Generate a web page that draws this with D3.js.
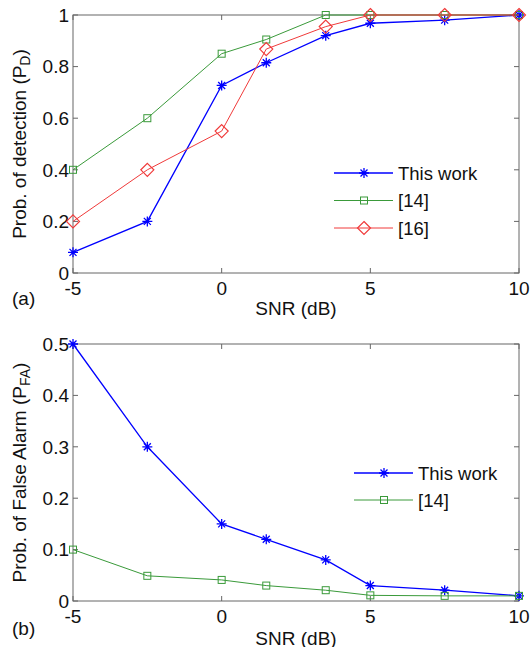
<!DOCTYPE html>
<html>
<head>
<meta charset="utf-8">
<script src="https://cdn.jsdelivr.net/npm/d3@7"></script>
<style>
  body { margin: 0; background: #fff; }
  text { font-family: "Liberation Sans", Arial, sans-serif; fill: #111; }
</style>
</head>
<body>
<div class="viz"></div>
<script>
const snr = [-5, -2.5, 0, 1.5, 3.5, 5, 7.5, 10];
const xTicks = [-5, 0, 5, 10];

// panel (a) detection probability
const pdThisWork = [0.08, 0.2, 0.727, 0.815, 0.92, 0.968, 0.98, 1.0];
const pdRef14 = [0.4, 0.6, 0.85, 0.905, 1.0, 1.0, 1.0, 1.0];
const pdRef16 = [0.2, 0.4, 0.55, 0.868, 0.955, 1.0, 1.0, 1.0];
const pdTicks = [0, 0.2, 0.4, 0.6, 0.8, 1];

// panel (b) false alarm probability
const pfaThisWork = [0.5, 0.3, 0.15, 0.12, 0.08, 0.03, 0.021, 0.01];
const pfaRef14 = [0.1, 0.049, 0.041, 0.03, 0.021, 0.011, 0.01, 0.01];
const pfaTicks = [0, 0.1, 0.2, 0.3, 0.4, 0.5];

const width = 532, height = 647;
const blue = '#0000ff', green = '#3a9a3a', red = '#f03a3a';
const fs = 19;

const svg = d3.select('.viz').append('svg')
  .attr('width', width).attr('height', height);

function marker(g, type, color, x, y) {
  if (type === 'star') {
    const s = 5;
    const p = `M${x-s},${y}H${x+s}M${x},${y-s}V${y+s}` +
      `M${x-s*0.7},${y-s*0.7}L${x+s*0.7},${y+s*0.7}M${x-s*0.7},${y+s*0.7}L${x+s*0.7},${y-s*0.7}`;
    g.append('path').attr('d', p).attr('stroke', color).attr('stroke-width', 1.3).attr('fill', 'none');
  } else if (type === 'square') {
    g.append('rect').attr('x', x-3.5).attr('y', y-3.5).attr('width', 7).attr('height', 7)
      .attr('fill', 'none').attr('stroke', color).attr('stroke-width', 1);
  } else {
    const s = 6.5;
    g.append('path').attr('d', `M${x},${y-s}L${x+s},${y}L${x},${y+s}L${x-s},${y}Z`)
      .attr('fill', 'none').attr('stroke', color).attr('stroke-width', 1.2);
  }
}

function panel(opt) {
  const x = d3.scaleLinear().domain([-5, 10]).range([73, 519]);
  const y = d3.scaleLinear().domain(opt.yDomain).range([opt.bottom, opt.top]);
  const g = svg.append('g');

  // box
  g.append('rect').attr('x', 73).attr('y', opt.top)
    .attr('width', 519 - 73).attr('height', opt.bottom - opt.top)
    .attr('fill', 'none').attr('stroke', '#666').attr('stroke-width', 1);

  const tk = 5;
  xTicks.forEach(t => {
    g.append('line').attr('x1', x(t)).attr('x2', x(t)).attr('y1', opt.bottom).attr('y2', opt.bottom - tk).attr('stroke', '#666');
    g.append('line').attr('x1', x(t)).attr('x2', x(t)).attr('y1', opt.top).attr('y2', opt.top + tk).attr('stroke', '#666');
    g.append('text').attr('x', x(t)).attr('y', opt.bottom + 22).attr('text-anchor', 'middle')
      .attr('font-size', fs).text(t);
  });
  opt.yTicks.forEach(t => {
    g.append('line').attr('x1', 73).attr('x2', 73 + tk).attr('y1', y(t)).attr('y2', y(t)).attr('stroke', '#666');
    g.append('line').attr('x1', 519).attr('x2', 519 - tk).attr('y1', y(t)).attr('y2', y(t)).attr('stroke', '#666');
    g.append('text').attr('x', 69).attr('y', y(t) + 6.8).attr('text-anchor', 'end')
      .attr('font-size', fs).text(t);
  });

  g.append('text').attr('x', (73 + 519) / 2).attr('y', opt.bottom + opt.xlabDy)
    .attr('text-anchor', 'middle').attr('font-size', fs).text('SNR (dB)');
  g.append('text').attr('x', 12).attr('y', opt.bottom + opt.tagDy)
    .attr('font-size', fs).text(opt.tag);

  const ylab = g.append('text')
    .attr('transform', `translate(26,${(opt.top + opt.bottom) / 2}) rotate(-90)`)
    .attr('text-anchor', 'middle').attr('font-size', fs);
  ylab.append('tspan').text(opt.ylabel + ' (P');
  ylab.append('tspan').attr('font-size', 14).attr('dy', 4).text(opt.sub);
  ylab.append('tspan').attr('dy', -4).text(')');

  const line = d3.line().x((d, i) => x(snr[i])).y(d => y(d));
  opt.series.forEach(s => {
    g.append('path').datum(s.values).attr('d', line)
      .attr('fill', 'none').attr('stroke', s.color).attr('stroke-width', s.type === 'star' ? 1.3 : 1);
    s.values.forEach((v, i) => marker(g, s.type, s.color, x(snr[i]), y(v)));
  });

  // legend
  opt.series.forEach((s, i) => {
    const ly = opt.legY + i * opt.legStep;
    g.append('line').attr('x1', opt.legX).attr('x2', opt.legX + 59).attr('y1', ly).attr('y2', ly)
      .attr('stroke', s.color).attr('stroke-width', s.type === 'star' ? 1.3 : 1);
    marker(g, s.type, s.color, opt.legX + 30, ly);
    g.append('text').attr('x', opt.legX + 64).attr('y', ly + 6.5)
      .attr('font-size', 18.5).text(s.name);
  });
}

panel({
  top: 15, bottom: 273, yDomain: [0, 1], yTicks: pdTicks,
  ylabel: 'Prob. of detection', sub: 'D', tag: '(a)', xlabDy: 41.5, tagDy: 31.5,
  legX: 334, legY: 173, legStep: 27.5,
  series: [
    { name: 'This work', values: pdThisWork, color: blue, type: 'star' },
    { name: '[14]', values: pdRef14, color: green, type: 'square' },
    { name: '[16]', values: pdRef16, color: red, type: 'diamond' }
  ]
});

panel({
  top: 344, bottom: 601, yDomain: [0, 0.5], yTicks: pfaTicks,
  ylabel: 'Prob. of False Alarm', sub: 'FA', tag: '(b)', xlabDy: 43.5, tagDy: 34,
  legX: 354, legY: 473, legStep: 27,
  series: [
    { name: 'This work', values: pfaThisWork, color: blue, type: 'star' },
    { name: '[14]', values: pfaRef14, color: green, type: 'square' }
  ]
});
</script>
</body>
</html>
